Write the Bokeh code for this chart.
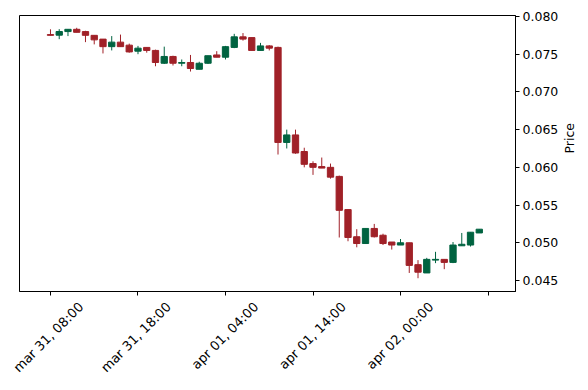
import math
from bokeh.plotting import figure
from bokeh.models import ColumnDataSource, FixedTicker, Range1d, NumeralTickFormatter, LinearAxis
from bokeh.embed import file_html
from bokeh.resources import INLINE

# hourly candles starting mar 31, 08:00
opens  = [0.0776, 0.07752, 0.0780, 0.0783, 0.0780, 0.0775, 0.0770, 0.0760, 0.0766, 0.0762,
          0.0754, 0.0759, 0.0755, 0.0738, 0.0747, 0.0738, 0.0739, 0.0730, 0.0738, 0.0749,
          0.0746, 0.0759, 0.0773, 0.0772, 0.0755, 0.0761, 0.0759, 0.0633, 0.0643, 0.0621,
          0.0605, 0.0601, 0.0600, 0.0588, 0.0544, 0.0508, 0.0499, 0.0519, 0.0510, 0.0501,
          0.0497, 0.0500, 0.0471, 0.0460, 0.0477, 0.0478, 0.0474, 0.0496, 0.0497, 0.0513]
closes = [0.0775, 0.07801, 0.0783, 0.0779, 0.0775, 0.0769, 0.0760, 0.0766, 0.0760, 0.0753,
          0.0758, 0.0755, 0.0739, 0.0747, 0.0738, 0.0739, 0.0731, 0.0738, 0.0748, 0.0746,
          0.0760, 0.0773, 0.0770, 0.0755, 0.0761, 0.0758, 0.0633, 0.0643, 0.0619, 0.0604,
          0.0600, 0.0599, 0.0587, 0.0543, 0.0507, 0.0499, 0.0519, 0.0508, 0.0499, 0.0497,
          0.0500, 0.0470, 0.0461, 0.0478, 0.0478, 0.0474, 0.0497, 0.0498, 0.0514, 0.0518]
highs  = [0.0783, 0.07832, 0.0783, 0.0785, 0.0781, 0.0775, 0.0770, 0.0774, 0.0776, 0.0764,
          0.0761, 0.0759, 0.0756, 0.0760, 0.0748, 0.0743, 0.0749, 0.0740, 0.0748, 0.0754,
          0.0761, 0.0777, 0.0778, 0.0772, 0.0765, 0.0762, 0.0760, 0.0650, 0.0650, 0.0626,
          0.0608, 0.0613, 0.0605, 0.0589, 0.0544, 0.0518, 0.0519, 0.0525, 0.0512, 0.0501,
          0.0505, 0.0500, 0.0477, 0.0480, 0.0488, 0.0478, 0.0501, 0.0513, 0.0514, 0.0518]
lows   = [0.0775, 0.07699, 0.0774, 0.0779, 0.0766, 0.0763, 0.0751, 0.0755, 0.0760, 0.0752,
          0.0750, 0.0752, 0.0734, 0.0737, 0.0735, 0.0734, 0.0727, 0.0730, 0.0737, 0.0746,
          0.0743, 0.0758, 0.0768, 0.0755, 0.0755, 0.0755, 0.0617, 0.0625, 0.0618, 0.0600,
          0.0590, 0.0599, 0.0585, 0.0507, 0.0502, 0.0494, 0.0499, 0.0507, 0.0497, 0.0491,
          0.0497, 0.0460, 0.0453, 0.0460, 0.0473, 0.0465, 0.0473, 0.0496, 0.0495, 0.0513]

tick_index = [0, 10, 20, 30, 40, 50]
tick_labels = ["mar 31, 08:00", "mar 31, 18:00", "apr 01, 04:00",
               "apr 01, 14:00", "apr 02, 00:00", ""]
price_ticks = [0.045, 0.050, 0.055, 0.060, 0.065, 0.070, 0.075, 0.080]

UP = "#006340"
DOWN = "#A02128"
LABEL_SHIFT = 3.5  # label anchor offset (index units) so rotated labels centre on ticks

idx = list(range(len(opens)))
colors = [UP if c >= o else DOWN for o, c in zip(opens, closes)]
tops = [max(o, c) for o, c in zip(opens, closes)]
bots = [min(o, c) for o, c in zip(opens, closes)]

src = ColumnDataSource(dict(i=idx, high=highs, low=lows, top=tops, bot=bots, color=colors))

p = figure(width=588, height=390, output_backend="svg", toolbar_location=None,
           x_range=Range1d(-3.54, 53.14), y_range=Range1d(0.04354, 0.08013),
           y_axis_location="right",
           min_border_left=19, min_border_top=15, min_border_right=73, min_border_bottom=99)

p.segment(x0="i", y0="low", x1="i", y1="high", color="color", line_width=1, source=src)
p.vbar(x="i", width=0.72, top="top", bottom="bot", fill_color="color", line_color="color",
       line_width=1, source=src)

p.grid.visible = False
p.outline_line_color = "black"
p.outline_line_width = 1
p.outline_line_alpha = 1

# main x axis: tick marks only
xa = p.xaxis[0]
xa.ticker = FixedTicker(ticks=tick_index)
xa.major_label_overrides = {t: "" for t in tick_index}
xa.minor_tick_line_color = None
xa.major_tick_out = 4
xa.major_tick_in = 0
xa.major_label_standoff = 0
xa.axis_line_color = "black"
xa.major_tick_line_color = "black"
xa.major_label_text_font_size = "1px"

# label-only axis
shifted = [t + LABEL_SHIFT for t in tick_index]
xl = LinearAxis(ticker=FixedTicker(ticks=shifted),
                major_label_overrides={s: l for s, l in zip(shifted, tick_labels)},
                axis_line_color=None, major_tick_line_color=None, minor_tick_line_color=None,
                major_tick_out=0, major_tick_in=0, major_label_standoff=9,
                major_label_orientation=math.pi / 4,
                major_label_text_font="DejaVu Sans", major_label_text_font_size="13px",
                major_label_text_color="black")
p.add_layout(xl, "below")

ya = p.yaxis[0]
ya.ticker = FixedTicker(ticks=price_ticks)
ya.formatter = NumeralTickFormatter(format="0.000")
ya.minor_tick_line_color = None
ya.major_tick_out = 4
ya.major_tick_in = 0
ya.major_label_standoff = 3
ya.axis_line_color = "black"
ya.major_tick_line_color = "black"
ya.major_label_text_font = "DejaVu Sans"
ya.major_label_text_font_size = "12.5px"
ya.major_label_text_color = "black"
ya.axis_label = "Price"
ya.axis_label_text_font = "DejaVu Sans"
ya.axis_label_text_font_size = "12.5px"
ya.axis_label_text_font_style = "normal"
ya.axis_label_text_color = "black"
ya.axis_label_standoff = 8
try:
    ya.axis_label_orientation = math.pi / 2
except Exception:
    pass

open("out.html", "w").write(file_html(p, INLINE))
